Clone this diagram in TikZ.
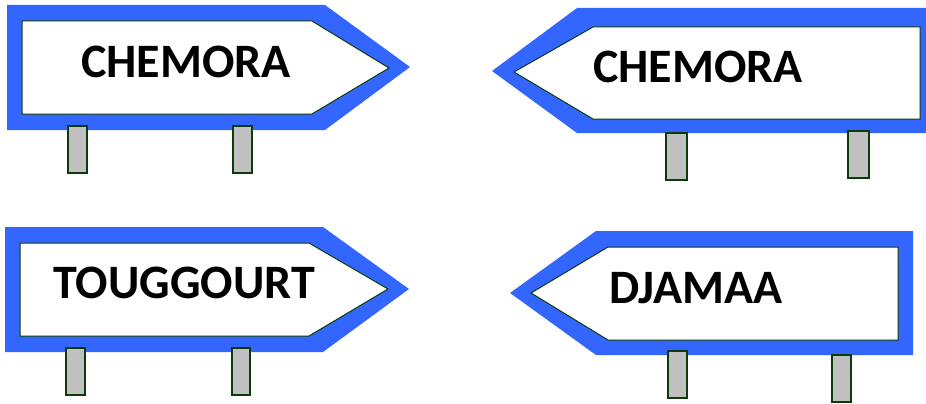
\documentclass[tikz,border=0pt]{standalone}
\usepackage{fontspec}
\setmainfont{Carlito}
\definecolor{signblue}{HTML}{3366FF}
\definecolor{signedge}{HTML}{0B3A0B}
\definecolor{postgray}{HTML}{C0C0C0}
\tikzset{
  board/.style={fill=signblue},
  panel/.style={fill=white,draw=signedge,line width=1pt,line join=miter},
  post/.style={fill=postgray,draw=signedge,line width=1.2pt},
  placename/.style={font=\bfseries\fontsize{48}{48}\selectfont,inner sep=0pt}
}
\begin{document}
\begin{tikzpicture}[x=1pt,y=-1pt]
\useasboundingbox (0,0) rectangle (926,404);
% top left: pointing right
\fill[board] (7,5)--(325,5)--(410,67)--(325,130)--(7,130)--cycle;
\draw[panel] (22,21)--(312,21)--(389,68)--(312,114)--(22,114)--cycle;
\draw[post] (68,126) rectangle (87,173);
\draw[post] (233,126) rectangle (252,173);
\node[placename] (nw) at (186,62) {CHEMORA};
% top right: pointing left
\fill[board] (492,71)--(577,8)--(926,8)--(926,133)--(577,133)--cycle;
\draw[panel] (514,72)--(593,27)--(920,27)--(920,119)--(593,119)--cycle;
\draw[post] (666,133) rectangle (687,180);
\draw[post] (848,131) rectangle (869,178);
\node[placename] (ne) at (698,67) {CHEMORA};
% bottom left: pointing right
\fill[board] (5,227)--(323,227)--(409,289)--(323,352)--(5,352)--cycle;
\draw[panel] (20,243)--(309,243)--(388,289)--(309,336)--(20,336)--cycle;
\draw[post] (66,348) rectangle (85,395);
\draw[post] (232,348) rectangle (250,395);
\node[placename] (sw) at (184,283) {TOUGGOURT};
% bottom right: pointing left
\fill[board] (510,293)--(596,231)--(913,231)--(913,355)--(596,355)--cycle;
\draw[panel] (531,293)--(608,247)--(898,247)--(898,340)--(608,340)--cycle;
\draw[post] (668,351) rectangle (687,398);
\draw[post] (832,355) rectangle (851,402);
\node[placename] (se) at (696,288) {DJAMAA};
\end{tikzpicture}
\end{document}
